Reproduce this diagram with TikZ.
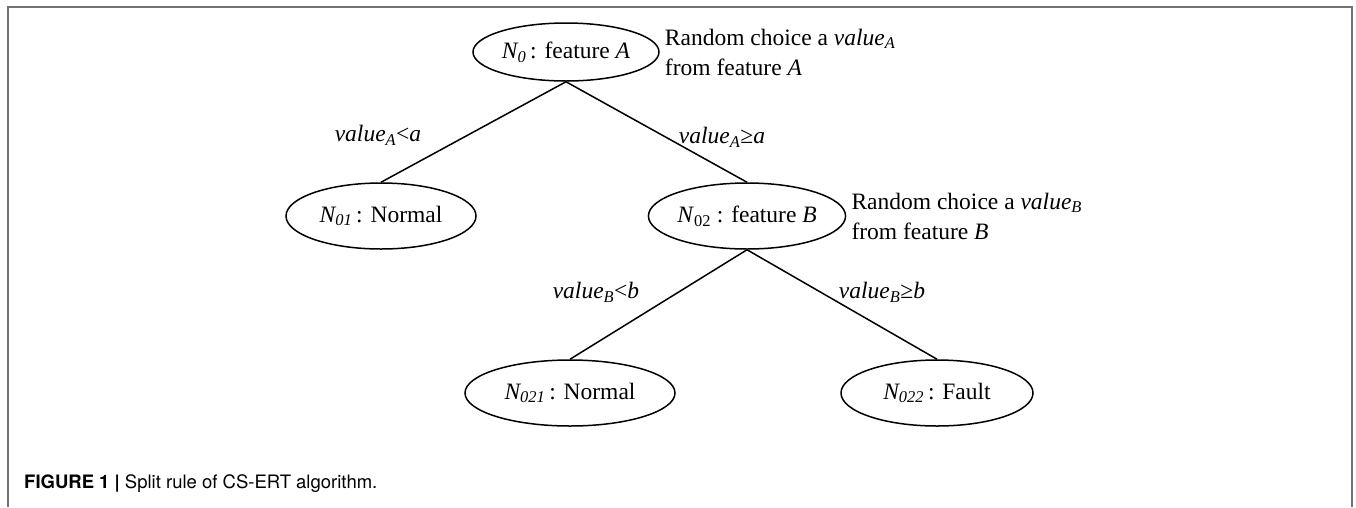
\documentclass[tikz,border=0pt]{standalone}
\usepackage{fontspec}
\setmainfont{Liberation Serif}
\newfontfamily\capfont{TeX Gyre Heros}
\usetikzlibrary{shapes.geometric}
\usetikzlibrary{positioning}

\begin{document}
\begin{tikzpicture}[x=1pt, y=-1pt,
    split/.style={ellipse, draw=black, line width=1.5pt, inner sep=0pt,
    minimum height=66pt, font=\fontsize{23.5}{28}\selectfont},
    note/.style={align=left, inner sep=0pt, font=\fontsize{23.5}{30}\selectfont},
    cond/.style={inner sep=0pt, font=\fontsize{23.5}{28}\selectfont},
    branch/.style={draw=black, line width=1.5pt},
    frame/.style={draw=black!55, line width=2pt}]
    \useasboundingbox (0,0) rectangle (1356,507);
    \draw [frame] (8,507) -- (8,7) -- (1352,7) -- (1352,507);

    \node (n0) [split, minimum width=186pt, minimum height=58pt] at (566,52)
    {\textit{N\textsubscript{0}}\,: feature \textit{A}};
    \node (noteA) [note, right=5pt of n0]
    {Random choice a \textit{value\textsubscript{A}}\\ from feature \textit{A}};

    \node (n01) [split, minimum width=190pt] at (381,216)
    {\textit{N\textsubscript{01}}\,: Normal};
    \node (n02) [split, minimum width=194pt] at (747,216)
    {\textit{N}\textsubscript{02} : feature \textit{B}};
    \node (noteB) [note, right=5pt of n02]
    {Random choice a \textit{value\textsubscript{B}}\\ from feature \textit{B}};

    \node (n021) [split, minimum width=210pt] at (570,393)
    {\textit{N\textsubscript{021}}\,: Normal};
    \node (n022) [split, minimum width=192pt] at (937,393)
    {\textit{N\textsubscript{022}}\,: Fault};

    \node (condA1) [cond] at (378,135) {\textit{value\textsubscript{A}}<\textit{a}};
    \node (condA2) [cond] at (722,137) {\textit{value\textsubscript{A}}≥\textit{a}};
    \node (condB1) [cond] at (596,292) {\textit{value\textsubscript{B}}<\textit{b}};
    \node (condB2) [cond] at (882,292) {\textit{value\textsubscript{B}}≥\textit{b}};

    \draw [branch] (n0.south) -- (n01.north);
    \draw [branch] (n0.south) -- (n02.north);
    \draw [branch] (n02.south) -- (n021.north);
    \draw [branch] (n02.south) -- (n022.north);

    \node (caption) [anchor=west, inner sep=0pt, font=\capfont\fontsize{18.5}{22}\selectfont] at (24,484)
    {\textbf{FIGURE 1 |} Split rule of CS-ERT algorithm.};
\end{tikzpicture}
\end{document}
